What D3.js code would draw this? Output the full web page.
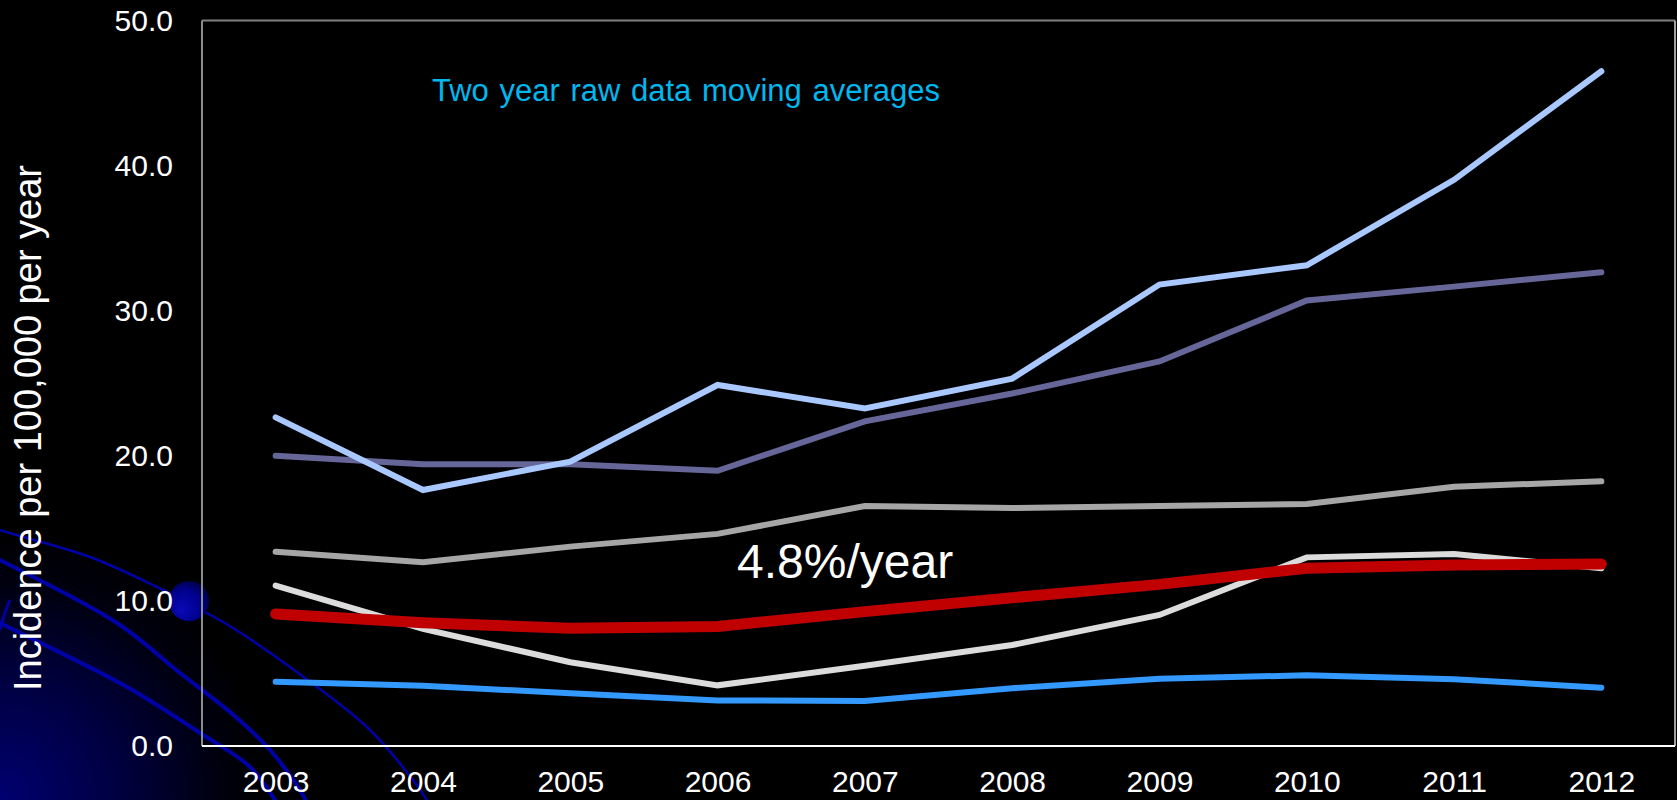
<!DOCTYPE html>
<html>
<head>
<meta charset="utf-8">
<script src="https://cdn.jsdelivr.net/npm/d3@7"></script>
<style>
  html, body { margin: 0; padding: 0; background: #000; }
  svg { display: block; }
  text { font-family: "Liberation Sans", Arial, sans-serif; }
</style>
</head>
<body>
<svg id="chart" width="1677" height="800"></svg>
<script>
// Years on the x axis
const years = ["2003", "2004", "2005", "2006", "2007", "2008", "2009", "2010", "2011", "2012"];

// Two-year moving averages, incidence per 100,000 per year
const seriesLightBlue = [22.65, 17.64, 19.6, 24.88, 23.26, 25.32, 31.8, 33.13, 39.02, 46.5];
const seriesPurple    = [20.0, 19.41, 19.41, 18.97, 22.37, 24.29, 26.5, 30.7, 31.66, 32.65];
const seriesGray      = [13.39, 12.66, 13.74, 14.62, 16.54, 16.4, 16.54, 16.68, 17.87, 18.24];
const seriesSilver    = [11.05, 8.07, 5.77, 4.18, 5.53, 6.96, 9.03, 13.0, 13.23, 12.25];
const seriesTrend     = [9.1, 8.5, 8.11, 8.24, 9.26, 10.22, 11.14, 12.25, 12.47, 12.54];
const seriesBlue      = [4.43, 4.16, 3.63, 3.14, 3.1, 3.98, 4.64, 4.87, 4.6, 4.02];

// Y axis ticks
const yTicks = [0, 10, 20, 30, 40, 50];

const titleText = "Two year raw data moving averages";
const rateText = "4.8%/year";
const yAxisTitle = "Incidence per 100,000 per year";

const svg = d3.select("#chart");
const W = 1677, H = 800;
const plot = { left: 202, top: 20.5, right: 1675, bottom: 746 };

const defs = svg.append("defs");

// Background glow in the lower-left corner
const glow = defs.append("radialGradient").attr("id", "cornerGlow")
  .attr("gradientUnits", "userSpaceOnUse")
  .attr("cx", 0).attr("cy", 800).attr("r", 270);
glow.append("stop").attr("offset", "0%").attr("stop-color", "#000070");
glow.append("stop").attr("offset", "45%").attr("stop-color", "#000040");
glow.append("stop").attr("offset", "80%").attr("stop-color", "#000010");
glow.append("stop").attr("offset", "100%").attr("stop-color", "#000000");

const sphere = defs.append("radialGradient").attr("id", "sphereFill")
  .attr("cx", "0.4").attr("cy", "0.6").attr("r", "0.6")
  .attr("fx", "0.3").attr("fy", "0.75");
sphere.append("stop").attr("offset", "0%").attr("stop-color", "#0a0ab8");
sphere.append("stop").attr("offset", "70%").attr("stop-color", "#00008c");
sphere.append("stop").attr("offset", "100%").attr("stop-color", "#000050");

svg.append("rect").attr("width", W).attr("height", H).attr("fill", "#000");
svg.append("rect").attr("x", 0).attr("y", 530).attr("width", 270).attr("height", 270)
  .attr("fill", "url(#cornerGlow)");

// Decorative arcs
const arcLine = d3.line().curve(d3.curveCatmullRom);
const arcs = [
  { w: 2.5, pts: [[-20, 522], [0, 530], [90, 557], [157, 587], [205, 612], [233, 628], [290, 667], [367, 727], [413, 780], [430, 805]] },
  { w: 4, pts: [[-20, 550], [0, 560], [117, 623], [180, 673], [237, 718], [270, 750], [300, 790], [308, 805]] },
  { w: 4, pts: [[-20, 613], [0, 623], [127, 687], [200, 733], [250, 767], [278, 805]] },
  { w: 3, pts: [[-10, 650], [0, 628], [6, 610], [10, 600]] }
];
svg.append("g").selectAll("path").data(arcs).join("path")
  .attr("d", d => arcLine(d.pts))
  .attr("fill", "none")
  .attr("stroke", "#0000a8")
  .attr("stroke-width", d => d.w);

svg.append("circle").attr("cx", 189).attr("cy", 601).attr("r", 20)
  .attr("fill", "url(#sphereFill)");

// Scales
const x = d3.scalePoint().domain(years).range([plot.left, plot.right]).padding(0.5);
const y = d3.scaleLinear().domain([0, 50]).range([plot.bottom, plot.top]);

// Plot frame
const frame = svg.append("g");
frame.append("line").attr("x1", plot.left).attr("x2", plot.right).attr("y1", plot.top).attr("y2", plot.top)
  .attr("stroke", "#808080").attr("stroke-width", 2);
frame.append("line").attr("x1", plot.left).attr("x2", plot.left).attr("y1", plot.top).attr("y2", plot.bottom)
  .attr("stroke", "#8c8c8c").attr("stroke-width", 2);
frame.append("line").attr("x1", plot.right).attr("x2", plot.right).attr("y1", plot.top).attr("y2", plot.bottom)
  .attr("stroke", "#a0a0a0").attr("stroke-width", 2);

// Y axis labels
const yAxis = svg.append("g")
  .attr("transform", `translate(${plot.left},0)`)
  .call(d3.axisLeft(y).tickValues(yTicks).tickFormat(d3.format(".1f")).tickSize(0).tickPadding(29));
yAxis.select(".domain").remove();
yAxis.selectAll("text")
  .attr("fill", "#fff")
  .style("font-size", "30px")
  .style("font-family", "'Liberation Sans', Arial, sans-serif");

// X axis
const xAxis = svg.append("g")
  .attr("transform", `translate(0,${plot.bottom})`)
  .call(d3.axisBottom(x).tickSize(0).tickPadding(25));
xAxis.select(".domain").attr("stroke", "#fff").attr("stroke-width", 2)
  .attr("d", `M${plot.left},0H${plot.right}`);
xAxis.selectAll("text")
  .attr("fill", "#fff")
  .style("font-size", "30px")
  .style("font-family", "'Liberation Sans', Arial, sans-serif");

// Data lines
const series = [
  { values: seriesPurple, color: "#666699", width: 6 },
  { values: seriesLightBlue, color: "#a9c8ff", width: 6 },
  { values: seriesGray, color: "#a6a6a6", width: 6 },
  { values: seriesSilver, color: "#dcdcdc", width: 6 },
  { values: seriesBlue, color: "#3399ff", width: 6 },
  { values: seriesTrend, color: "#c00000", width: 11 }
];
const line = d3.line().x((d, i) => x(years[i])).y(d => y(d));
svg.append("g").selectAll("path").data(series).join("path")
  .attr("d", d => line(d.values))
  .attr("fill", "none")
  .attr("stroke", d => d.color)
  .attr("stroke-width", d => d.width)
  .attr("stroke-linecap", "round")
  .attr("stroke-linejoin", "miter");

// Annotations
svg.append("text").attr("x", 432).attr("y", 100.5)
  .attr("fill", "#00b8f0").style("font-size", "31px")
  .style("word-spacing", "2px")
  .text(titleText);

svg.append("text").attr("x", 737).attr("y", 578)
  .attr("fill", "#fff").style("font-size", "48px")
  .text(rateText);

svg.append("text")
  .attr("transform", "translate(41,428) rotate(-90)")
  .attr("text-anchor", "middle")
  .attr("fill", "#fff").style("font-size", "38px")
  .text(yAxisTitle);
</script>
</body>
</html>
